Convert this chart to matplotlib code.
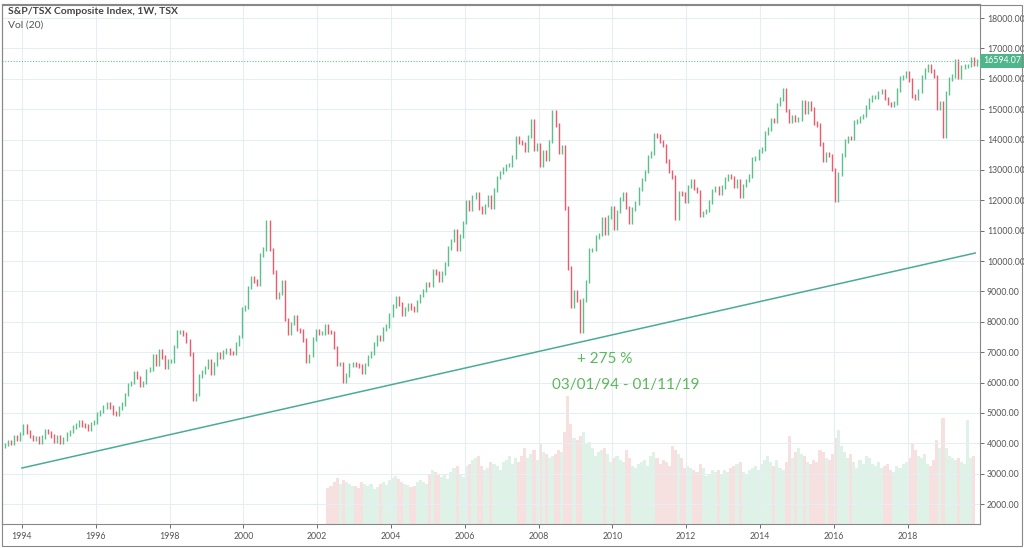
import numpy as np
import matplotlib.pyplot as plt
from matplotlib.patches import Rectangle

# monthly closes, Jul 1993 .. Nov 2019
closes = [
    3960, 4040, 3990, 4220, 4150, 4320,  # 1993 (Jul-Dec)
    4560, 4370, 4220, 4150, 4190, 4030, 4210, 4400, 4350, 4230, 4080, 4210,  # 1994
    4020, 4150, 4300, 4390, 4530, 4600, 4700, 4600, 4560, 4450, 4650, 4710,  # 1995
    4970, 5050, 5200, 5290, 5200, 5000, 4960, 5170, 5300, 5600, 5930, 6000,  # 1996
    6310, 6160, 5900, 6000, 6400, 6440, 6880, 6620, 7040, 6840, 6510, 6700,  # 1997
    6700, 7180, 7660, 7670, 7590, 7370, 6930, 5450, 5610, 6210, 6340, 6490,  # 1998
    6730, 6310, 6600, 6950, 6840, 7010, 7080, 6970, 6960, 7260, 7520, 8410,  # 1999
    8480, 9130, 9460, 9350, 9250, 10200, 10400, 11300, 10380, 9640, 8820, 8930,  # 2000
    9320, 8080, 7610, 7940, 8160, 7740, 7690, 7400, 6700, 6890, 7430, 7690,  # 2001
    7640, 7640, 7850, 7660, 7650, 7150, 6600, 6610, 6050, 6250, 6570, 6610,  # 2002
    6570, 6550, 6340, 6590, 6860, 6980, 7260, 7520, 7420, 7770, 7860, 8220,  # 2003
    8520, 8790, 8590, 8240, 8420, 8550, 8460, 8380, 8670, 8870, 9030, 9250,  # 2004
    9200, 9670, 9610, 9370, 9610, 9900, 10420, 10670, 11010, 10380, 10820, 11270,  # 2005
    11950, 11690, 12110, 12200, 11740, 11610, 11830, 12110, 11760, 12340, 12750, 12910,  # 2006
    13030, 13150, 13170, 13420, 14060, 13910, 13870, 13660, 14100, 14630, 13690, 13830,  # 2007
    13160, 13580, 13350, 13940, 14900, 14470, 13590, 13770, 11750, 9760, 8500, 8990,  # 2008
    8700, 7700, 8720, 9330, 10370, 10380, 10790, 10870, 11400, 10910, 11450, 11750,  # 2009
    11090, 11630, 12040, 12210, 11760, 11290, 11710, 11910, 12370, 12680, 12950, 13440,  # 2010
    13550, 14140, 14120, 13940, 13800, 13300, 12950, 12770, 11400, 12250, 12200, 11960,  # 2011
    12450, 12640, 12390, 12290, 11510, 11600, 11660, 11950, 12320, 12420, 12240, 12430,  # 2012
    12690, 12820, 12750, 12460, 12650, 12130, 12490, 12650, 12790, 13360, 13400, 13620,  # 2013
    13690, 14210, 14340, 14650, 14600, 15150, 15330, 15630, 14960, 14610, 14740, 14630,  # 2014
    14670, 15230, 14900, 15220, 15010, 14550, 14470, 13860, 13310, 13530, 13470, 13010,  # 2015
    12000, 12860, 13490, 13950, 14070, 14060, 14580, 14600, 14730, 14790, 15080, 15290,  # 2016
    15390, 15400, 15550, 15590, 15350, 15180, 15140, 15210, 15630, 16030, 16070, 16210,  # 2017
    15950, 15440, 15370, 15600, 16060, 16280, 16430, 16260, 16070, 15030, 15200, 14100,  # 2018
    15540, 16000, 16100, 16580, 16040, 16380, 16410, 16440, 16660, 16480, 16594.07,  # 2019
]
first_open = 3900

# monthly volume (relative), Apr 2002 .. Oct 2019
volume = [
    36, 38, 42, 46, 40, 44, 42, 40, 38,
    38, 36, 42, 40, 38, 40, 35, 37, 40, 42, 39, 44,
    46, 48, 45, 42, 40, 39, 37, 38, 42, 44, 42, 40,
    50, 54, 52, 50, 47, 50, 45, 52, 56, 58, 50, 47,
    58, 60, 64, 66, 68, 58, 54, 56, 62, 60, 58, 54,
    62, 64, 68, 60, 66, 62, 68, 76, 66, 70, 74, 64,
    80, 72, 70, 66, 68, 70, 74, 72, 92, 128, 100, 86,
    84, 88, 92, 80, 82, 76, 68, 72, 74, 76, 70, 62,
    66, 68, 64, 62, 74, 66, 58, 56, 60, 62, 64, 58,
    68, 72, 66, 60, 64, 62, 58, 78, 74, 70, 66, 56,
    58, 56, 54, 52, 60, 56, 48, 50, 54, 52, 54, 50,
    54, 52, 56, 58, 60, 62, 52, 50, 54, 56, 58, 54,
    60, 64, 68, 62, 58, 64, 56, 54, 62, 88, 66, 72,
    76, 70, 68, 62, 60, 64, 62, 74, 72, 66, 64, 70,
    86, 94, 78, 72, 66, 70, 62, 56, 64, 60, 68, 66,
    60, 58, 62, 56, 58, 60, 54, 52, 58, 56, 60, 62,
    66, 80, 74, 68, 66, 70, 60, 58, 64, 84, 76, 106,
    76, 68, 66, 64, 66, 62, 60, 104, 66, 68,
]
vol_start = 2002 + 3 / 12

trend_x = [1994.0, 2019.83]
trend_y = [3185, 10263]
last_price = 16594.07
year_ticks = list(range(1994, 2019, 2))
price_ticks = list(range(2000, 18001, 1000))

up_col = '#5cbf8c'
dn_col = '#eb5b6c'

plt.rcParams['font.family'] = ['Lato', 'DejaVu Sans']

fig = plt.figure(figsize=(10.24, 5.48), dpi=100)
ax = fig.add_axes([2 / 1024, 24 / 548, 978 / 1024, 520 / 548])
ax2 = ax.twinx()

closes = np.array(closes, dtype=float)
opens = np.concatenate([[first_open], closes[:-1]])
xs = 1993.5 + (np.arange(len(closes)) + 0.5) / 12
colors = np.where(closes >= opens, up_col, dn_col)

# volume (behind)
vol = np.array(volume, dtype=float)
vx = vol_start + (np.arange(len(vol)) + 0.5) / 12
vxi = np.searchsorted(xs, vx)
vcols = ['#dff2e8' if c == up_col else '#f6e0e0' for c in colors[np.clip(vxi, 0, len(colors) - 1)]]
ax2.bar(vx, vol, width=1 / 12, color=vcols, linewidth=0)
ax2.set_ylim(0, 520)
ax2.set_yticks([])
for s in ax2.spines.values():
    s.set_visible(False)

ax.set_zorder(ax2.get_zorder() + 1)
ax.patch.set_visible(False)

ax.vlines(xs, np.minimum(opens, closes) - 60, np.maximum(opens, closes) + 60,
          colors=colors, linewidth=1.0)

ax.plot(trend_x, trend_y, color='#4aab97', lw=1.1)
ax.axhline(last_price, color='#6fbf98', lw=0.8, ls=(0, (1, 1.5)))

ax.text(2009.8, 6780, '+ 275 %', color='#5cb85c', fontsize=11, ha='center', va='center')
ax.text(2010.35, 5920, '03/01/94 - 01/11/19', color='#5cb85c', fontsize=11,
        ha='center', va='center')

ax.set_xlim(1993.46, 2019.96)
ax.set_ylim(1342, 18461)
ax.set_xticks(year_ticks)
ax.set_xticklabels([str(y) for y in year_ticks])
ax.set_yticks(price_ticks)
ax.set_yticklabels(['%d.00' % p for p in price_ticks])
ax.yaxis.tick_right()
ax.tick_params(axis='both', labelsize=6.3, colors='#555555', length=3, width=0.6)
ax.tick_params(axis='y', pad=2)
ax.tick_params(axis='x', pad=3)
ax.grid(True, color='#e6eef4', lw=0.8)
for s in ax.spines.values():
    s.set_color('#888888')
    s.set_linewidth(0.8)

# last price tag
ax.text(1.003, (last_price - 1342) / (18461 - 1342), '%.2f' % last_price,
        transform=ax.transAxes, fontsize=6.3, color='white', va='center', ha='left',
        bbox=dict(boxstyle='square,pad=0.3', fc='#4fb58a', ec='none'))

# outer frame
fig.patches.append(Rectangle((1.5 / 1024, 2.5 / 548), 1020 / 1024, 541 / 548,
                             transform=fig.transFigure, fill=False, ec='#888888', lw=0.8))

fig.text(8 / 1024, 1 - 12 / 548, 'S&P/TSX Composite Index, 1W, TSX', fontsize=7.5,
         fontweight='bold', color='#444444', va='center')
fig.text(8 / 1024, 1 - 25 / 548, 'Vol (20)', fontsize=7.5, color='#555555', va='center')

fig.savefig('out.png', dpi=100)
